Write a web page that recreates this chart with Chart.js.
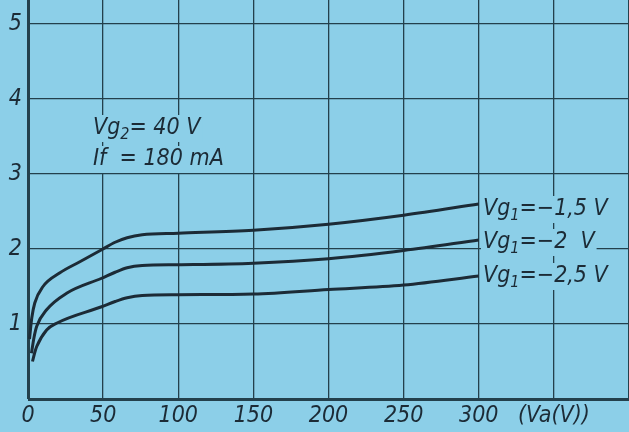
<!DOCTYPE html>
<html>
<head>
<meta charset="utf-8">
<script src="https://cdn.jsdelivr.net/npm/chart.js@4/dist/chart.umd.min.js"></script>
<style>
  html, body { margin: 0; padding: 0; background: #8ccfe8; }
  canvas { display: block; }
</style>
</head>
<body>
<canvas id="chart" width="629" height="432"></canvas>
<script>
// anode voltage (V) vs current
const vaA = [1, 2.5, 4.5, 10, 21, 34.5, 49, 58, 66, 76, 100, 150, 200, 250, 300];
const iaA = [0.8, 1.08, 1.28, 1.5, 1.68, 1.83, 1.99, 2.09, 2.15, 2.19, 2.21, 2.25, 2.33, 2.45, 2.6];

const vaB = [2.3, 4, 5.8, 12.4, 25.7, 49, 58, 66, 76, 100, 150, 200, 250, 300];
const iaB = [0.61, 0.82, 0.97, 1.19, 1.41, 1.61, 1.69, 1.75, 1.78, 1.79, 1.81, 1.87, 1.98, 2.12];

const vaC = [3, 4.5, 5.8, 12.4, 19, 49, 58, 66, 76, 100, 150, 200, 250, 300];
const iaC = [0.5, 0.62, 0.7, 0.92, 1.01, 1.23, 1.3, 1.35, 1.38, 1.39, 1.4, 1.46, 1.52, 1.64];

const xTicks = [0, 50, 100, 150, 200, 250, 300, 350, 400];
const xTickLabels = ["0", "50", "100", "150", "200", "250", "300", "(Va(V))", ""];
const yTicks = [0, 1, 2, 3, 4, 5];
const yTickLabels = ["", "1", "2", "3", "4", "5"];

const BG = "#8ccfe8";
const INK = "#1c2b36";
const GRID = "#23404c";
const FONT = "'Liberation Sans Narrow', 'DejaVu Sans Condensed', sans-serif";

function pts(xs, ys) {
  return xs.map((x, i) => ({ x: x, y: ys[i] }));
}

function curve(xs, ys) {
  return {
    data: pts(xs, ys),
    borderColor: INK,
    borderWidth: 3,
    pointRadius: 0,
    fill: false,
    cubicInterpolationMode: "monotone"
  };
}

// text pieces: [text, isSubscript]
const notes = [
  { x: 93, y: 134, parts: [["Vg", 0], ["2", 1], ["= 40 V", 0]] },
  { x: 93, y: 165, parts: [["If  = 180 mA", 0]] },
  { x: 483, y: 215, parts: [["Vg", 0], ["1", 1], ["=\u22121,5 V", 0]] },
  { x: 483, y: 248, parts: [["Vg", 0], ["1", 1], ["=\u22122  V", 0]] },
  { x: 483, y: 282, parts: [["Vg", 0], ["1", 1], ["=\u22122,5 V", 0]] }
];

const bgPlugin = {
  id: "bg",
  beforeDraw(chart) {
    const ctx = chart.ctx;
    ctx.save();
    ctx.fillStyle = BG;
    ctx.fillRect(0, 0, chart.width, chart.height);
    ctx.restore();
  }
};

const notesPlugin = {
  id: "notes",
  afterDatasetsDraw(chart) {
    const ctx = chart.ctx;
    ctx.save();
    ctx.textBaseline = "alphabetic";
    notes.forEach(n => {
      let w = 0;
      n.parts.forEach(p => {
        ctx.font = "italic " + (p[1] ? 16 : 23) + "px " + FONT;
        w += ctx.measureText(p[0]).width;
      });
      ctx.fillStyle = BG;
      ctx.fillRect(n.x - 2, n.y - 19, w + 4, 27);
      ctx.fillStyle = INK;
      let x = n.x;
      n.parts.forEach(p => {
        ctx.font = "italic " + (p[1] ? 16 : 23) + "px " + FONT;
        ctx.fillText(p[0], x, p[1] ? n.y + 5 : n.y);
        x += ctx.measureText(p[0]).width;
      });
    });
    ctx.restore();
  }
};

new Chart(document.getElementById("chart"), {
  type: "line",
  data: {
    datasets: [curve(vaA, iaA), curve(vaB, iaB), curve(vaC, iaC)]
  },
  options: {
    responsive: false,
    animation: false,
    devicePixelRatio: 1,
    layout: { padding: 0 },
    plugins: { legend: { display: false }, tooltip: { enabled: false } },
    scales: {
      x: {
        type: "linear",
        min: 0,
        max: 400,
        afterBuildTicks: s => { s.ticks = xTicks.map(v => ({ value: v })); },
        afterFit: s => { s.height = 33; s.paddingLeft = 0; s.paddingRight = 0; },
        ticks: {
          callback: (v, i) => xTickLabels[i],
          font: { family: FONT, size: 23, style: "italic" },
          color: INK,
          padding: 3,
          maxRotation: 0,
          autoSkip: false
        },
        grid: {
          color: GRID,
          lineWidth: c => (c.tick && c.tick.value === 0 ? 3 : 1.3),
          drawTicks: false
        },
        border: { display: false }
      },
      y: {
        min: 0,
        max: 5.32,
        afterBuildTicks: s => { s.ticks = yTicks.map(v => ({ value: v })); },
        afterFit: s => { s.width = 28; s.paddingTop = 0; s.paddingBottom = 0; },
        ticks: {
          callback: (v, i) => yTickLabels[i],
          font: { family: FONT, size: 23, style: "italic" },
          color: INK,
          padding: 6
        },
        grid: {
          color: GRID,
          lineWidth: c => (c.tick && c.tick.value === 0 ? 3 : 1.3),
          drawTicks: false
        },
        border: { display: false }
      }
    }
  },
  plugins: [bgPlugin, notesPlugin]
});
</script>
</body>
</html>
